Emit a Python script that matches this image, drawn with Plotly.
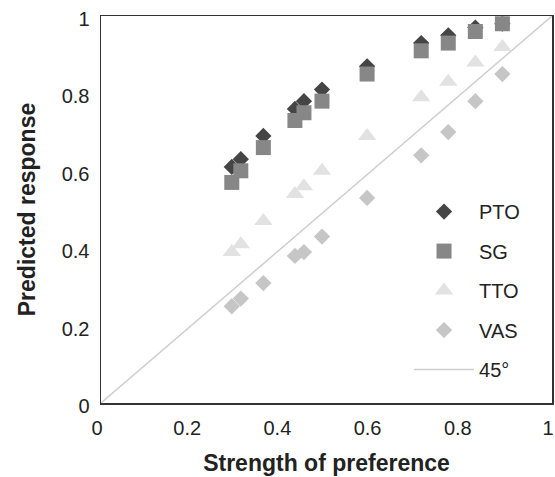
import plotly.graph_objects as go

# Data
strength = [0.29, 0.31, 0.36, 0.43, 0.45, 0.49, 0.59, 0.71, 0.77, 0.83, 0.89]
pto = [0.61, 0.63, 0.69, 0.76, 0.78, 0.81, 0.87, 0.93, 0.95, 0.97, 0.98]
sg = [0.57, 0.60, 0.66, 0.73, 0.75, 0.78, 0.85, 0.91, 0.93, 0.96, 0.98]
tto = [0.39, 0.41, 0.47, 0.54, 0.56, 0.60, 0.69, 0.79, 0.83, 0.88, 0.92]
vas = [0.25, 0.27, 0.31, 0.38, 0.39, 0.43, 0.53, 0.64, 0.70, 0.78, 0.85]
diag_x = [0, 1]
diag_y = [0, 1]
ticks = [0, 0.2, 0.4, 0.6, 0.8, 1]
tick_text = ["0", "0.2", "0.4", "0.6", "0.8", "1"]

FONT = "Liberation Sans, Arial, Helvetica, sans-serif"

fig = go.Figure()
fig.add_trace(go.Scatter(x=diag_x, y=diag_y, mode="lines", name="45°",
                         line=dict(color="#cfcfcf", width=1.5),
                         legendrank=5, legendgroup="e"))
fig.add_trace(go.Scatter(x=strength, y=pto, mode="markers", name="PTO",
                         marker=dict(symbol="diamond", size=12.5, color="#454545"),
                         legendrank=1, legendgroup="a"))
fig.add_trace(go.Scatter(x=strength, y=sg, mode="markers", name="SG",
                         marker=dict(symbol="square", size=15, color="#878787"),
                         legendrank=2, legendgroup="b"))
fig.add_trace(go.Scatter(x=strength, y=tto, mode="markers", name="TTO",
                         marker=dict(symbol="triangle-up", size=16, color="#e2e2e2"),
                         legendrank=3, legendgroup="c"))
fig.add_trace(go.Scatter(x=strength, y=vas, mode="markers", name="VAS",
                         marker=dict(symbol="diamond", size=12.5, color="#c6c6c6"),
                         legendrank=4, legendgroup="d"))

axis_common = dict(range=[0, 1], tickvals=ticks, ticktext=tick_text,
                   showgrid=False, zeroline=False, showline=True, mirror=True,
                   linecolor="#333333", linewidth=1.5, automargin=False,
                   ticks="outside", ticklen=6, tickcolor="rgba(0,0,0,0)",
                   ticklabeloverflow="allow",
                   tickfont=dict(family=FONT, size=20, color="#222222"))

fig.update_layout(
    width=555, height=477,
    margin=dict(l=101, r=3, t=16, b=74),
    paper_bgcolor="white", plot_bgcolor="white",
    font=dict(family=FONT, color="#222222"),
    xaxis=dict(**axis_common, ticklabelshift=-4,
               title=dict(text="<b>Strength of preference</b>",
                          font=dict(family=FONT, size=23, color="#222222"),
                          standoff=17)),
    yaxis=dict(**axis_common, ticklabelshift=3,
               title=dict(text="<b>Predicted response</b>",
                          font=dict(family=FONT, size=23, color="#222222"),
                          standoff=19)),
    legend=dict(x=0.683, y=0.545, xanchor="left", yanchor="top",
                bgcolor="rgba(0,0,0,0)", font=dict(family=FONT, size=20, color="#222222"),
                tracegroupgap=10.5, itemwidth=60, traceorder="grouped"),
    showlegend=True,
    hovermode=False,
)

# Remove the default page margin so the figure fills the window exactly.
fig.write_html("out.html",
               config={"displayModeBar": False, "staticPlot": True},
               post_script="document.body.style.margin='0px';document.body.style.overflow='hidden';")
